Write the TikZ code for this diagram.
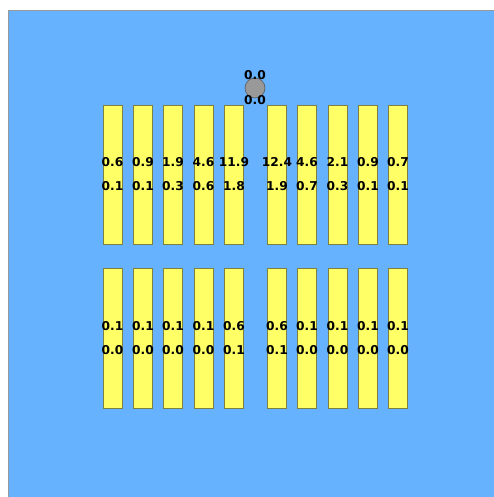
\documentclass[tikz,border=0pt]{standalone}
\usepackage{fontspec}
\setmainfont{DejaVu Sans}
\definecolor{bgblue}{HTML}{66B2FF}
\definecolor{baryellow}{HTML}{FFFF66}
\definecolor{barborder}{HTML}{7F7F40}
\definecolor{circgray}{HTML}{999999}
\begin{document}
\begin{tikzpicture}[x=1pt,y=-1pt,
  barbox/.style={fill=baryellow,draw=barborder,line width=0.6pt},
  val/.style={font=\fontsize{12.2}{13}\selectfont\bfseries,inner sep=0pt,text=black},
  src/.style={circle,fill=circgray,draw=gray!70!black,line width=0.6pt,minimum size=20pt,inner sep=0pt}]
\useasboundingbox (0,0) rectangle (493,497);
\fill[white] (0,0) rectangle (493,497);
\draw[fill=bgblue,draw=gray!80,line width=0.8pt] (8.5,10.5) rectangle (500,505);
% source
\node[src] (s) at (255,88) {};
\node[val] (su) at (255,75) {0.0};
\node[val] (sd) at (255,100) {0.0};
% bars
\foreach \x/\a/\b/\c/\d [count=\i] in {112.5/0.6/0.1/0.1/0.0, 143/0.9/0.1/0.1/0.0, 173/1.9/0.3/0.1/0.0, 203.5/4.6/0.6/0.1/0.0, 234/11.9/1.8/0.6/0.1, 277/12.4/1.9/0.6/0.1, 307/4.6/0.7/0.1/0.0, 337.5/2.1/0.3/0.1/0.0, 368/0.9/0.1/0.1/0.0, 398/0.7/0.1/0.1/0.0}{
  \node[barbox,minimum width=19pt,minimum height=139pt,inner sep=0pt] (t\i) at (\x,174.5) {};
  \node[barbox,minimum width=19pt,minimum height=140pt,inner sep=0pt] (b\i) at (\x,338.5) {};
  \node[val] (ta\i) at (\x,162) {\a};
  \node[val] (tb\i) at (\x,186) {\b};
  \node[val] (ba\i) at (\x,326.5) {\c};
  \node[val] (bb\i) at (\x,350.5) {\d};
}
\end{tikzpicture}
\end{document}
